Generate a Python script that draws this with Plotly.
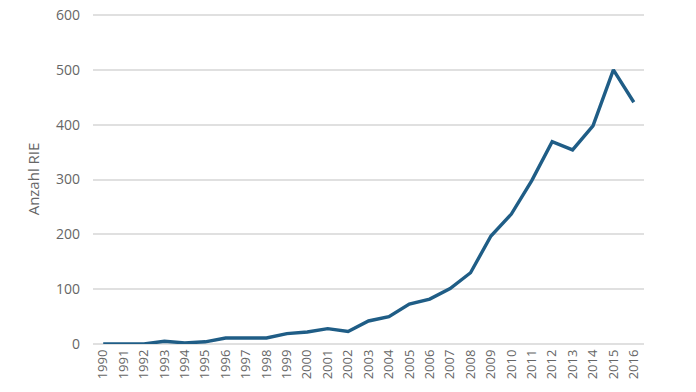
import plotly.graph_objects as go

years = [str(y) for y in range(1990, 2017)]
values = [0, 0, 0, 5, 2, 4, 11, 11, 11, 19, 22, 28, 23, 42, 50, 73, 82, 101, 130, 197, 237, 298, 369, 354, 398, 500, 441]

y_ticks = [0, 100, 200, 300, 400, 500, 600]

fig = go.Figure()
fig.add_trace(go.Scatter(
    x=years, y=values, mode="lines",
    line=dict(color="#1f5d86", width=3.4),
    showlegend=False, hoverinfo="skip",
))

fig.update_layout(
    width=696, height=392,
    margin=dict(l=93, r=52, t=14, b=48),
    paper_bgcolor="white", plot_bgcolor="white",
    font=dict(family="Open Sans, sans-serif", color="#666666"),
    xaxis=dict(
        type="category", range=[-0.5, 26.5], automargin=False,
        tickangle=-90, tickfont=dict(size=13, color="#666666"),
        showgrid=False, showline=False, zeroline=False, ticks="",
        ticklabelstandoff=2,
    ),
    yaxis=dict(
        range=[0, 602], tickvals=y_ticks, automargin=False,
        gridcolor="#e0e0e0", gridwidth=2,
        zeroline=True, zerolinecolor="#e0e0e0", zerolinewidth=2,
        tickfont=dict(size=14, color="#666666"), ticks="",
        ticklabelstandoff=12,
        title=dict(text="Anzahl RIE", font=dict(size=15, color="#666666"), standoff=12),
    ),
)

fig.write_html("out.html", config={"displayModeBar": False},
               post_script="document.body.style.margin='0px';")
